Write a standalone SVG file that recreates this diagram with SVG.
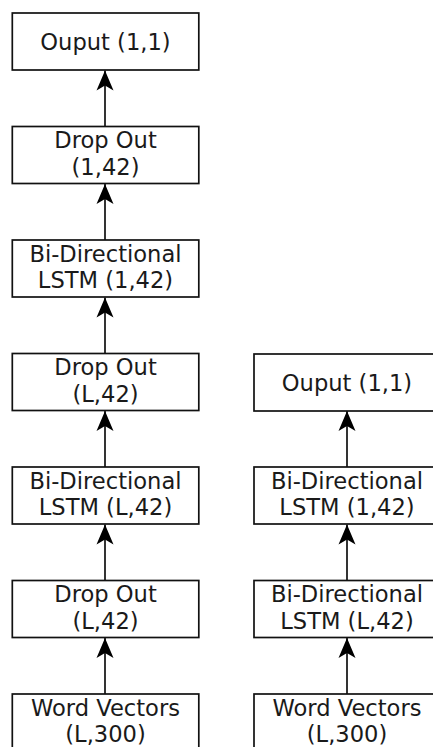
<svg xmlns="http://www.w3.org/2000/svg" width="433" height="747" viewBox="0 0 433 747">
<style>
.box rect{fill:#fff;stroke:#111;stroke-width:1.7}
.box text{font-family:"DejaVu Sans",sans-serif;font-size:22.6px;fill:#1a1a1a;text-anchor:middle}
.conn line{stroke:#000;stroke-width:1.6;marker-end:url(#ah)}
</style>
<defs>
<marker id="ah" viewBox="-21 -10 22 20" refX="0" refY="0" markerWidth="22" markerHeight="20" markerUnits="userSpaceOnUse" orient="auto">
<path d="M0,0 L-20,-8.5 L-15,0 L-20,8.5 Z" fill="#000"/>
</marker>
</defs>
<rect width="433" height="747" fill="#fff"/>
<g class="conn" id="connectors">
<line x1="105" y1="126.5" x2="105" y2="70.5"/>
<line x1="105" y1="240" x2="105" y2="184"/>
<line x1="105" y1="353.5" x2="105" y2="297.5"/>
<line x1="105" y1="467" x2="105" y2="411"/>
<line x1="105" y1="580.5" x2="105" y2="524.5"/>
<line x1="105" y1="694" x2="105" y2="638"/>
<line x1="347" y1="467" x2="347" y2="411"/>
<line x1="347" y1="580.5" x2="347" y2="524.5"/>
<line x1="347" y1="694" x2="347" y2="638"/>
</g>
<g class="box" id="l-output"><rect x="12.3" y="13" width="186.5" height="57"/><text x="105.5" y="49.5">Ouput (1,1)</text></g>
<g class="box" id="l-dropout1"><rect x="12.3" y="126.5" width="186.5" height="57"/><text x="105.5" y="148">Drop Out</text><text x="105.5" y="174.5">(1,42)</text></g>
<g class="box" id="l-bilstm1"><rect x="12.3" y="240" width="186.5" height="57"/><text x="105.5" y="261.5">Bi-Directional</text><text x="105.5" y="288">LSTM (1,42)</text></g>
<g class="box" id="l-dropout2"><rect x="12.3" y="353.5" width="186.5" height="57"/><text x="105.5" y="375">Drop Out</text><text x="105.5" y="401.5">(L,42)</text></g>
<g class="box" id="l-bilstm2"><rect x="12.3" y="467" width="186.5" height="57"/><text x="105.5" y="488.5">Bi-Directional</text><text x="105.5" y="515">LSTM (L,42)</text></g>
<g class="box" id="l-dropout3"><rect x="12.3" y="580.5" width="186.5" height="57"/><text x="105.5" y="602">Drop Out</text><text x="105.5" y="628.5">(L,42)</text></g>
<g class="box" id="l-wordvec"><rect x="12.3" y="694" width="186.5" height="57"/><text x="105.5" y="715.5">Word Vectors</text><text x="105.5" y="742">(L,300)</text></g>
<g class="box" id="r-output"><rect x="254" y="354" width="186.5" height="57"/><text x="347" y="390.5">Ouput (1,1)</text></g>
<g class="box" id="r-bilstm1"><rect x="254" y="467" width="186.5" height="57"/><text x="347" y="488.5">Bi-Directional</text><text x="347" y="515">LSTM (1,42)</text></g>
<g class="box" id="r-bilstm2"><rect x="254" y="580.5" width="186.5" height="57"/><text x="347" y="602">Bi-Directional</text><text x="347" y="628.5">LSTM (L,42)</text></g>
<g class="box" id="r-wordvec"><rect x="254" y="694" width="186.5" height="57"/><text x="347" y="715.5">Word Vectors</text><text x="347" y="742">(L,300)</text></g>
</svg>
